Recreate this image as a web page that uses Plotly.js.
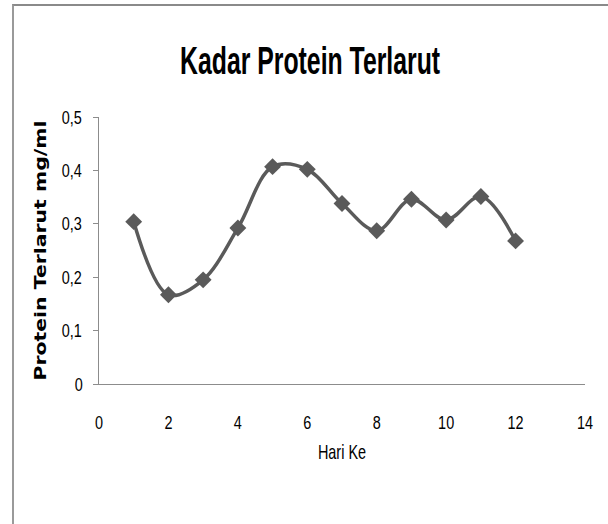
<!DOCTYPE html>
<html>
<head>
<meta charset="utf-8">
<script src="https://cdn.plot.ly/plotly-3.0.1.min.js"></script>
<style>
  html, body { margin: 0; padding: 0; background: #fff; }
  #wrap { position: relative; width: 608px; height: 524px; overflow: hidden; }
  #chart { position: absolute; left: 0; top: 0; width: 608px; height: 524px; }
  #frame { position: absolute; left: 12px; top: 4px; width: 700px; height: 700px;
           border-left: 2px solid #9a9a9a; border-top: 2px solid #8a8a8a; pointer-events: none; }
</style>
</head>
<body>
<div id="wrap">
  <div id="chart"></div>
  <div id="frame"></div>
</div>
<script>
const days = [1, 2, 3, 4, 5, 6, 7, 8, 9, 10, 11, 12];
const protein = [0.304, 0.167, 0.195, 0.292, 0.407, 0.402, 0.338, 0.287, 0.346, 0.307, 0.351, 0.268];
const xTicks = [0, 2, 4, 6, 8, 10, 12, 14];
const yTicks = [0, 0.1, 0.2, 0.3, 0.4, 0.5];
const yTickText = ['0', '0,1', '0,2', '0,3', '0,4', '0,5'];

const sans = '"Liberation Sans", Arial, sans-serif';

const trace = {
  x: days,
  y: protein,
  type: 'scatter',
  mode: 'lines+markers',
  line: { color: '#5a5a5a', width: 3.5, shape: 'spline', smoothing: 1 },
  marker: { symbol: 'diamond', size: 13, color: '#5a5a5a' },
  cliponaxis: false,
  hoverinfo: 'skip'
};

const layout = {
  width: 608,
  height: 524,
  margin: { l: 99, r: 23, t: 117, b: 140 },
  paper_bgcolor: '#ffffff',
  plot_bgcolor: '#ffffff',
  showlegend: false,
  title: {
    text: '<b>Kadar Protein Terlarut</b>',
    font: { family: sans, size: 34, color: '#000' },
    x: 0.51, xanchor: 'center',
    y: 0.885, yanchor: 'middle'
  },
  xaxis: {
    range: [0, 14],
    tickmode: 'array',
    tickvals: xTicks,
    ticktext: xTicks.map(String),
    showgrid: false,
    zeroline: false,
    showline: true,
    linecolor: '#8c8c8c',
    linewidth: 1,
    ticks: '',
    ticklabelstandoff: 23,
    tickfont: { family: sans, size: 17, color: '#000' },
    title: { text: 'Hari Ke', font: { family: sans, size: 17, color: '#000' }, standoff: 14 }
  },
  yaxis: {
    range: [0, 0.5],
    tickmode: 'array',
    tickvals: yTicks,
    ticktext: yTickText,
    showgrid: false,
    zeroline: false,
    showline: true,
    linecolor: '#8c8c8c',
    linewidth: 1,
    ticks: 'outside',
    ticklen: 5,
    tickcolor: '#8c8c8c',
    ticklabelstandoff: 6,
    tickfont: { family: sans, size: 17, color: '#000' },
    title: { text: '<b>Protein Terlarut mg/ml</b>', font: { family: '"DejaVu Sans", Verdana, sans-serif', size: 15, color: '#000' }, standoff: 9 }
  }
};

// Stretch a text element around its own centre (screen axes of its parent).
function stretch(el, sx, sy) {
  const bb = el.getBBox();
  let px = bb.x + bb.width / 2, py = bb.y + bb.height / 2;
  const old = el.getAttribute('transform') || '';
  const tl = el.transform.baseVal.consolidate();
  if (tl) {
    const m = tl.matrix;
    const nx = m.a * px + m.c * py + m.e;
    const ny = m.b * px + m.d * py + m.f;
    px = nx; py = ny;
  }
  el.setAttribute('transform',
    'translate(' + px + ',' + py + ') scale(' + sx + ',' + sy + ') translate(' + (-px) + ',' + (-py) + ') ' + old);
}

Plotly.newPlot('chart', [trace], layout, { staticPlot: true, displayModeBar: false }).then(function (gd) {
  gd.querySelectorAll('.gtitle').forEach(function (el) { stretch(el, 0.73, 1.15); });
  gd.querySelectorAll('.g-xtitle text').forEach(function (el) { stretch(el, 0.85, 1.15); });
  gd.querySelectorAll('.g-ytitle text').forEach(function (el) { stretch(el, 1, 1.36); });
  gd.querySelectorAll('.xtick text').forEach(function (el) { stretch(el, 0.85, 1.1); });
  gd.querySelectorAll('.ytick text').forEach(function (el) { stretch(el, 0.85, 1.1); });
});
</script>
</body>
</html>
